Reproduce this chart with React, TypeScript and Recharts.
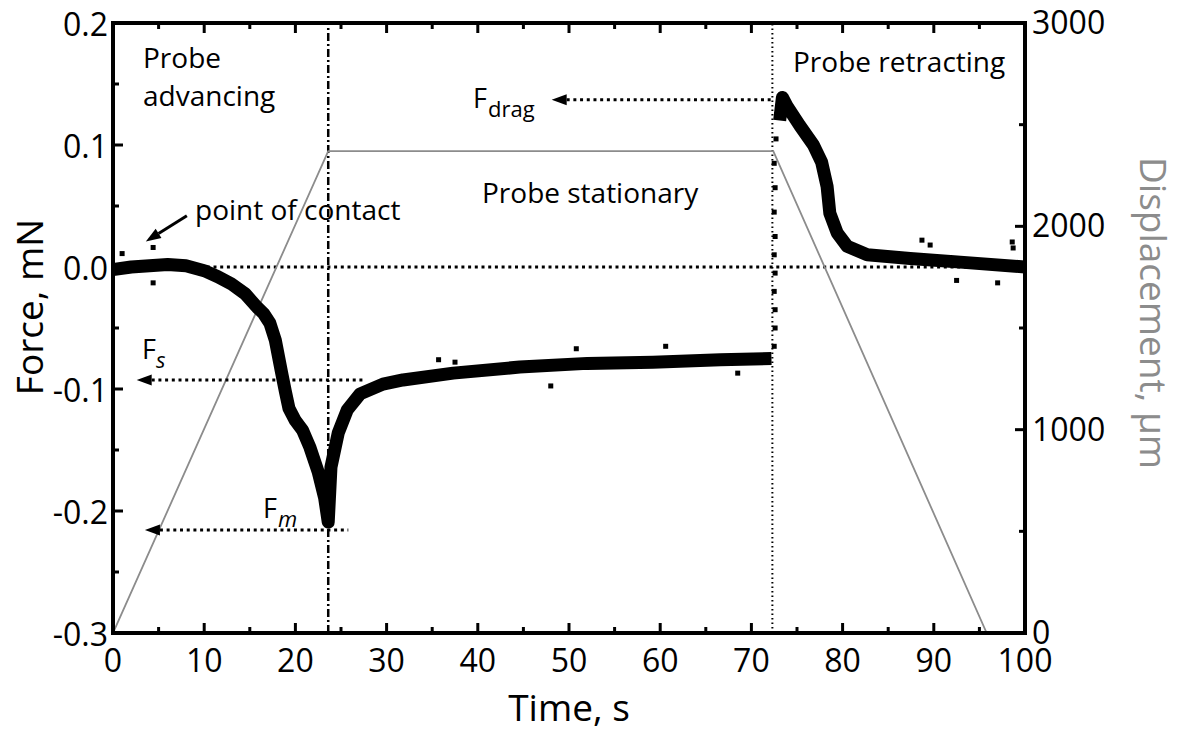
import React from 'react'
import { ComposedChart, Line, Scatter, XAxis, YAxis, ReferenceLine } from 'recharts'

// tick positions (minor ticks every half step, labels only on majors)
const timeTicks = [0, 5, 10, 15, 20, 25, 30, 35, 40, 45, 50, 55, 60, 65, 70, 75, 80, 85, 90, 95, 100]
const forceTicks = [-0.3, -0.25, -0.2, -0.15, -0.1, -0.05, 0, 0.05, 0.1, 0.15, 0.2]
const dispTicks = [0, 500, 1000, 1500, 2000, 2500, 3000]

// force trace, probe advancing + stationary
const advTime = [0, 2, 4, 6, 8, 10, 11.5, 13, 14.5, 15.8, 16.5, 17.2, 17.8, 18.5, 18.9, 19.3, 20.0, 20.8, 21.6, 22.5, 23.2, 23.6, 23.9, 24.7, 25.7, 27.1, 29.6, 31.8, 37.3, 44.6, 52, 59.2, 66.6, 72.2]
const advForce = [-0.002, 0.0, 0.001, 0.002, 0.001, -0.003, -0.008, -0.014, -0.022, -0.033, -0.038, -0.046, -0.06, -0.087, -0.102, -0.116, -0.126, -0.134, -0.148, -0.168, -0.189, -0.209, -0.164, -0.136, -0.117, -0.104, -0.096, -0.0926, -0.087, -0.082, -0.079, -0.078, -0.076, -0.075]

// force trace, probe retracting
const retTime = [73.1, 73.4, 73.9, 75.3, 76.8, 77.7, 78.3, 78.6, 79.4, 80.5, 82.7, 87.4, 92.9, 100]
const retForce = [0.12, 0.139, 0.132, 0.116, 0.1, 0.086, 0.066, 0.044, 0.028, 0.017, 0.01, 0.007, 0.004, 0.0]

// sparse points during the jump at retraction start
const riseTime = [72.5, 72.6, 72.6, 72.5, 72.6, 72.5, 72.6, 72.5, 72.6, 72.5, 72.7, 72.8]
const riseForce = [-0.065, -0.05, -0.035, -0.02, -0.005, 0.01, 0.025, 0.045, 0.065, 0.085, 0.105, 0.125]

// stray points off the band
const strayTime = [4.4, 4.4, 1.0, 35.7, 37.5, 48.0, 50.8, 60.6, 68.5, 88.7, 89.6, 98.6, 98.7, 97.0, 92.5]
const strayForce = [0.016, -0.013, 0.011, -0.076, -0.078, -0.0975, -0.067, -0.065, -0.087, 0.022, 0.018, 0.0205, 0.0156, -0.013, -0.011]

// probe displacement (right axis)
const dispTime = [0, 23.6, 72.4, 95.8]
const dispValue = [0, 2370, 2370, 0]

// annotation lines
const contactTime = 23.6
const retractTime = 72.3
const fsLevel = -0.0926
const fmLevel = -0.2156
const fdragLevel = 0.137

const advData = advTime.map((t, i) => ({ t, f: advForce[i] }))
const retData = retTime.map((t, i) => ({ t, f: retForce[i] }))
const riseData = riseTime.map((t, i) => ({ t, f: riseForce[i] }))
const strayData = strayTime.map((t, i) => ({ t, f: strayForce[i] }))
const dispData = dispTime.map((t, i) => ({ t, d: dispValue[i] }))

const FONT = '"Open Sans", sans-serif'
const isMajor = (v: number, step: number) => Math.abs(v / step - Math.round(v / step)) < 1e-6

const BottomTick = ({ x, y, payload }: any) => {
  const major = isMajor(payload.value, 10)
  return (
    <g>
      <line x1={x} x2={x} y1={y} y2={y - (major ? 10 : 6)} stroke="#000" strokeWidth={3} />
      {major && (
        <text x={x} y={y + 39} textAnchor="middle" fontSize={32} fontFamily={FONT} fill="#000">
          {payload.value}
        </text>
      )}
    </g>
  )
}

const TopTick = ({ x, y, payload }: any) => {
  const major = isMajor(payload.value, 10)
  return <line x1={x} x2={x} y1={y} y2={y + (major ? 10 : 6)} stroke="#000" strokeWidth={3} />
}

const LeftTick = ({ x, y, payload }: any) => {
  const major = isMajor(payload.value, 0.1)
  return (
    <g>
      <line x1={x} x2={x + (major ? 10 : 6)} y1={y} y2={y} stroke="#000" strokeWidth={3} />
      {major && (
        <text x={x - 5} y={y + 13} textAnchor="end" fontSize={32} fontFamily={FONT} fill="#000">
          {payload.value.toFixed(1)}
        </text>
      )}
    </g>
  )
}

const RightTick = ({ x, y, payload }: any) => {
  const major = isMajor(payload.value, 1000)
  return (
    <g>
      <line x1={x} x2={x - (major ? 10 : 6)} y1={y} y2={y} stroke="#000" strokeWidth={3} />
      {major && (
        <text x={x + 7} y={y + 11} textAnchor="start" fontSize={32} fontFamily={FONT} fill="#000">
          {payload.value}
        </text>
      )}
    </g>
  )
}

// first segment point is the arrow tip
const arrow = (dash: string | undefined, width: number) => (p: any) => {
  const { x1, y1, x2, y2 } = p
  const dx = x2 - x1
  const dy = y2 - y1
  const len = Math.hypot(dx, dy) || 1
  const ux = dx / len
  const uy = dy / len
  const head = 15
  const half = 5.5
  const bx = x1 + ux * head
  const by = y1 + uy * head
  return (
    <g>
      <line x1={bx} y1={by} x2={x2} y2={y2} stroke="#000" strokeWidth={width} strokeDasharray={dash} />
      <polygon
        points={`${x1},${y1} ${bx - uy * half},${by + ux * half} ${bx + uy * half},${by - ux * half}`}
        fill="#000"
      />
    </g>
  )
}

const square = (p: any) => <rect x={p.cx - 2.5} y={p.cy - 2.5} width={5} height={5} fill="#000" />

const axisLine = { stroke: '#000', strokeWidth: 4, strokeLinecap: 'square' as const }

export default function App() {
  return (
    <div style={{ position: 'fixed', left: 0, top: 0, width: 1180, height: 732, background: '#fff' }}>
      <ComposedChart width={1180} height={732} margin={{ top: 13, right: 35, bottom: 39, left: 13 }}>
        <XAxis
          xAxisId="bottom"
          dataKey="t"
          type="number"
          domain={[0, 100]}
          allowDataOverflow
          ticks={timeTicks}
          interval={0}
          height={60}
          tickSize={0}
          tickMargin={0}
          tickLine={false}
          axisLine={axisLine}
          tick={BottomTick}
        />
        <XAxis
          xAxisId="top"
          orientation="top"
          dataKey="t"
          type="number"
          domain={[0, 100]}
          allowDataOverflow
          ticks={timeTicks}
          interval={0}
          height={10}
          tickSize={0}
          tickMargin={0}
          tickLine={false}
          axisLine={axisLine}
          tick={TopTick}
        />
        <YAxis
          yAxisId="force"
          dataKey="f"
          type="number"
          domain={[-0.3, 0.2]}
          allowDataOverflow
          ticks={forceTicks}
          interval={0}
          width={100}
          tickSize={0}
          tickMargin={0}
          tickLine={false}
          axisLine={axisLine}
          tick={LeftTick}
        />
        <YAxis
          yAxisId="disp"
          orientation="right"
          type="number"
          domain={[0, 3000]}
          allowDataOverflow
          ticks={dispTicks}
          interval={0}
          width={120}
          tickSize={0}
          tickMargin={0}
          tickLine={false}
          axisLine={axisLine}
          tick={RightTick}
        />

        <ReferenceLine xAxisId="bottom" yAxisId="force" y={0} stroke="#000" strokeWidth={3} strokeDasharray="3 3.7" />
        <ReferenceLine xAxisId="bottom" yAxisId="force" x={contactTime} stroke="#000" strokeWidth={2.5} strokeDasharray="8 3 2 3" />
        <ReferenceLine xAxisId="bottom" yAxisId="force" x={retractTime} stroke="#000" strokeWidth={2} strokeDasharray="1.5 3" />

        <Line
          xAxisId="bottom"
          yAxisId="disp"
          data={dispData}
          dataKey="d"
          stroke="#8c8c8c"
          strokeWidth={1.8}
          dot={false}
          isAnimationActive={false}
        />
        <Line
          xAxisId="bottom"
          yAxisId="force"
          data={advData}
          dataKey="f"
          stroke="#000"
          strokeWidth={13}
          strokeLinejoin="round"
          dot={false}
          isAnimationActive={false}
        />
        <Line
          xAxisId="bottom"
          yAxisId="force"
          data={retData}
          dataKey="f"
          stroke="#000"
          strokeWidth={13}
          strokeLinejoin="round"
          dot={false}
          isAnimationActive={false}
        />
        <Scatter xAxisId="bottom" yAxisId="force" data={riseData} shape={square} isAnimationActive={false} />
        <Scatter xAxisId="bottom" yAxisId="force" data={strayData} shape={square} isAnimationActive={false} />

        <ReferenceLine
          xAxisId="bottom"
          yAxisId="force"
          segment={[{ x: 2.6, y: fsLevel }, { x: 27.4, y: fsLevel }]}
          shape={arrow('3 3.7', 3)}
          ifOverflow="visible"
        />
        <ReferenceLine
          xAxisId="bottom"
          yAxisId="force"
          segment={[{ x: 3.5, y: fmLevel }, { x: 25.8, y: fmLevel }]}
          shape={arrow('3 3.7', 3)}
          ifOverflow="visible"
        />
        <ReferenceLine
          xAxisId="bottom"
          yAxisId="force"
          segment={[{ x: 48.1, y: fdragLevel }, { x: 72.2, y: fdragLevel }]}
          shape={arrow('3 3.7', 3)}
          ifOverflow="visible"
        />
        <ReferenceLine
          xAxisId="bottom"
          yAxisId="force"
          segment={[{ x: 3.6, y: 0.021 }, { x: 8.1, y: 0.042 }]}
          shape={arrow(undefined, 3)}
          ifOverflow="visible"
        />
      </ComposedChart>

      <svg
        width={1180}
        height={732}
        style={{ position: 'absolute', left: 0, top: 0, pointerEvents: 'none' }}
        fontFamily={FONT}
      >
        <text x={143} y={68} fontSize={28}>Probe</text>
        <text x={143} y={106} fontSize={28}>advancing</text>
        <text x={195} y={220} fontSize={28}>point of contact</text>
        <text x={482} y={203} fontSize={28}>Probe stationary</text>
        <text x={793} y={72} fontSize={28}>Probe retracting</text>

        <text x={473} y={108} fontSize={27}>F</text>
        <text x={488} y={117} fontSize={22}>drag</text>
        <text x={142} y={359} fontSize={27}>F</text>
        <text x={156} y={368} fontSize={22} fontStyle="italic">s</text>
        <text x={263} y={518} fontSize={27}>F</text>
        <text x={278} y={527} fontSize={22} fontStyle="italic">m</text>

        <text x={569} y={721} fontSize={37} textAnchor="middle">Time, s</text>
        <text transform="translate(43 307) rotate(-90)" fontSize={37} textAnchor="middle">Force, mN</text>
        <text transform="translate(1140 313) rotate(90)" fontSize={37} textAnchor="middle" fill="#8c8c8c">
          Displacement, µm
        </text>
      </svg>
    </div>
  )
}
